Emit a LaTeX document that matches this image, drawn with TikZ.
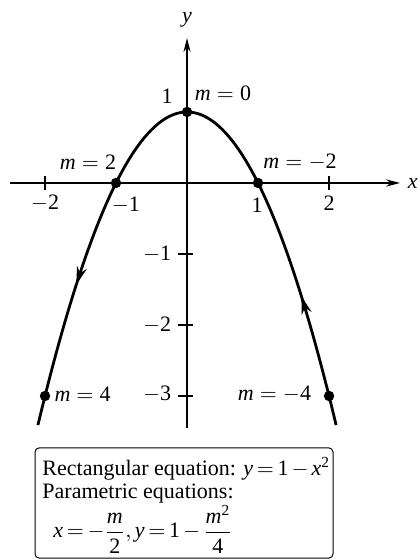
\documentclass[tikz,border=0pt]{standalone}
\usepackage{amsmath}
\usepackage{fontspec}
\setmainfont{Liberation Serif}
\usetikzlibrary{arrows.meta}
\newcommand\md[1]{\text{#1}}
\newcommand\mq[1]{$\textit{m}=#1$}
\begin{document}
\begin{tikzpicture}[x=35.5pt,y=35.5pt,font=\fontsize{11}{13}\selectfont,
  axis/.style={line width=0.6pt,-{Stealth[length=7pt,width=3.6pt]}},
  curve/.style={line width=1.4pt},
  dirarrow/.style={line width=1.4pt,-{Stealth[length=9pt,width=5pt]}},
  dot/.style={circle,fill=black,inner sep=0pt,minimum size=5.2pt},
  lbl/.style={inner sep=1pt},
  eqtext/.style={inner sep=0pt,anchor=base west,
    execute at begin node={\thickmuskip=3mu plus 1mu\medmuskip=2.5mu plus 1mu}},
  eqbox/.style={draw,line width=0.5pt,rounded corners=2pt}]
\useasboundingbox (-2.634,-5.31) rectangle (3.268,2.577);
% axes
\coordinate (xs) at (-2.49,0);
\coordinate (xe) at (3.0,0);
\coordinate (ys) at (0,-3.45);
\coordinate (ye) at (0,2.04);
\draw[axis] (xs) -- (xe);
\draw[axis] (ys) -- (ye);
\node[lbl] (xl) at (3.18,0) {\textit{x}};
\node[lbl] (yl) at (0,2.3) {\textit{y}};
% ticks
\foreach \t in {-2,2}{\draw[line width=0.6pt] (\t,-0.1) -- (\t,0.1);}
\foreach \t in {-1,-2,-3}{\draw[line width=0.6pt] (-0.13,\t) -- (0.09,\t);}
\node[lbl] (tm2) at (-2.0,-0.29) {$-\md{2}$};
\node[lbl] (tm1) at (-0.86,-0.31) {$-\md{1}$};
\node[lbl] (t1) at (0.986,-0.31) {1};
\node[lbl] (t2) at (2.0,-0.29) {2};
\node[lbl,anchor=east] (ym1) at (-0.19,-1.0) {$-\md{1}$};
\node[lbl,anchor=east] (ym2) at (-0.19,-2.0) {$-\md{2}$};
\node[lbl,anchor=east] (ym3) at (-0.19,-2.97) {$-\md{3}$};
\node[lbl] (y1) at (-0.282,1.22) {1};
% curve
\draw[curve] plot[domain=-2.1:2.1,samples=60,smooth] (\x,{1-\x*\x});
% direction arrows
\coordinate (la) at (-1.50,-1.25);
\coordinate (lb) at (-1.56,-1.4336);
\coordinate (ra) at (1.67,-1.7889);
\coordinate (rb) at (1.61,-1.5921);
\draw[dirarrow] (la) -- (lb);
\draw[dirarrow] (ra) -- (rb);
% points
\node[dot] (P0) at (0,1) {};
\node[dot] (P2) at (-1,0) {};
\node[dot] (Pm2) at (1,0) {};
\node[dot] (P4) at (-2,-3) {};
\node[dot] (Pm4) at (2,-3) {};
\node[lbl] (l0) at (0.507,1.268) {\mq{\md{0}}};
\node[lbl] (l2) at (-1.394,0.296) {\mq{\md{2}}};
\node[lbl] (lm2) at (1.592,0.296) {\mq{-\md{2}}};
\node[lbl,anchor=west] (l4) at (-1.90,-2.97) {\mq{\md{4}}};
\node[lbl,anchor=east] (lm4) at (1.78,-2.97) {\mq{-\md{4}}};
% box
\draw[eqbox] (-2.141,-5.282) rectangle (2.056,-3.732);
\node[eqtext] (e1) at (-2.042,-4.113) {Rectangular equation: $\textit{y}=\md{1}-\textit{x}^{\md{2}}$};
\node[eqtext] (e2) at (-2.042,-4.44) {Parametric equations:};
\node[eqtext] (e3) at (-1.887,-5.0) {$\textit{x}=-\dfrac{\textit{m}}{\md{2}},\textit{y}=\md{1}-\dfrac{\textit{m}^{\md{2}}}{\md{4}}$};
\end{tikzpicture}
\end{document}
